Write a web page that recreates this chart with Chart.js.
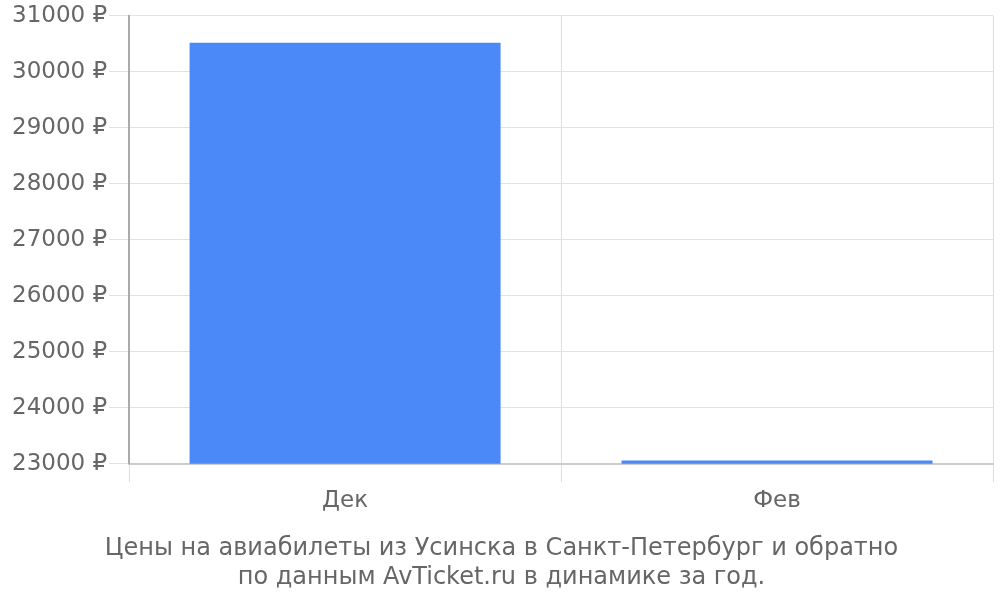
<!DOCTYPE html>
<html>
<head>
<meta charset="utf-8">
<script src="https://cdn.jsdelivr.net/npm/chart.js@4/dist/chart.umd.min.js"></script>
<style>
  html, body { margin: 0; padding: 0; background: #fff; }
  #wrap { width: 1000px; height: 600px; }
</style>
</head>
<body>
<div id="wrap"><canvas id="chart"></canvas></div>
<script>
// data
const months = ['Дек', 'Фев'];
const prices = [30520, 23060];
const yMin = 23000;
const yMax = 31000;
const yStep = 1000;
const titleLines = [
    'Цены на авиабилеты из Усинска в Санкт-Петербург и обратно',
    'по данным AvTicket.ru в динамике за год.'
];

Chart.defaults.font.family = '"DejaVu Sans", sans-serif';
Chart.defaults.color = '#666';

new Chart(document.getElementById('chart'), {
    type: 'bar',
    data: {
        labels: months,
        datasets: [{
            data: prices,
            backgroundColor: '#4b88f8',
            borderWidth: 0
        }]
    },
    options: {
        responsive: true,
        maintainAspectRatio: false,
        animation: false,
        layout: { padding: { top: 0, right: 7, left: 10, bottom: 8 } },
        plugins: {
            legend: { display: false },
            tooltip: { enabled: false },
            title: {
                display: true,
                position: 'bottom',
                text: titleLines,
                color: '#666',
                font: { size: 24, weight: 'normal', lineHeight: 1.2 },
                padding: { top: 15, bottom: 0 }
            }
        },
        scales: {
            x: {
                grid: {
                    color: '#ddd',
                    tickLength: 18,
                    offset: true
                },
                border: { color: '#ccc', width: 2 },
                ticks: {
                    font: { size: 23 },
                    color: '#666',
                    padding: 5
                }
            },
            y: {
                min: yMin,
                max: yMax,
                grid: {
                    color: '#e2e2e2',
                    tickLength: 20
                },
                border: { color: '#aaa', width: 2 },
                ticks: {
                    stepSize: yStep,
                    font: { size: 23 },
                    color: '#666',
                    padding: 2,
                    callback: v => v + ' ₽'
                }
            }
        }
    }
});
</script>
</body>
</html>
